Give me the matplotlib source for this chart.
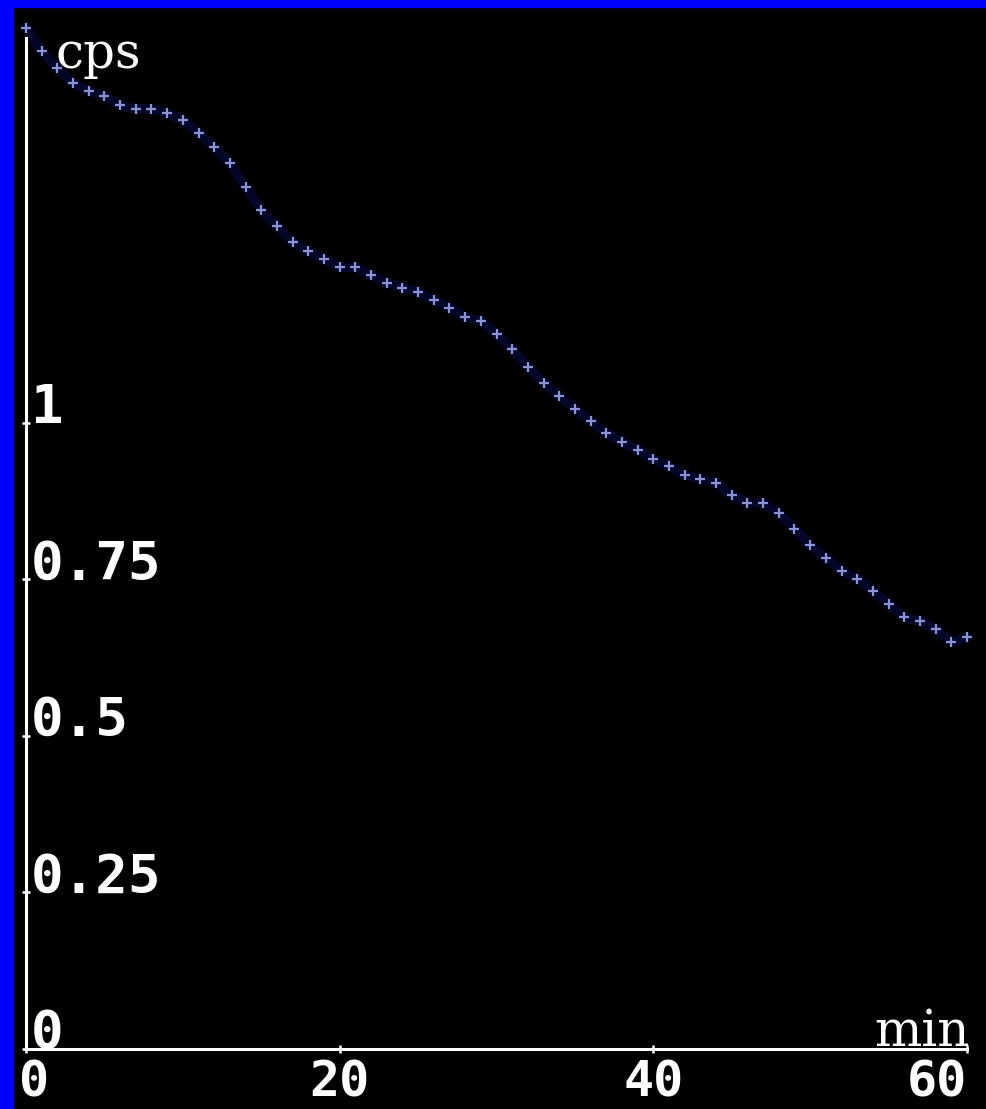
import matplotlib
matplotlib.use("Agg")
import matplotlib.pyplot as plt
from matplotlib.patches import Rectangle
from matplotlib.transforms import ScaledTranslation

# ---- data ----
minutes = list(range(0, 61))
cps = [1.631, 1.594, 1.567, 1.543, 1.530, 1.522, 1.508, 1.502, 1.502, 1.495,
       1.484, 1.463, 1.441, 1.415, 1.377, 1.340, 1.315, 1.289, 1.275, 1.262,
       1.249, 1.249, 1.236, 1.224, 1.216, 1.209, 1.196, 1.184, 1.169, 1.163,
       1.142, 1.118, 1.089, 1.064, 1.043, 1.022, 1.003, 0.984, 0.970, 0.957,
       0.942, 0.931, 0.917, 0.911, 0.904, 0.885, 0.872, 0.872, 0.856, 0.831,
       0.805, 0.784, 0.764, 0.751, 0.732, 0.711, 0.690, 0.684, 0.671, 0.650,
       0.658]
x_ticks = [0, 20, 40, 60]
x_tick_labels = ["0", "20", "40", "60"]
y_ticks = [0, 0.25, 0.5, 0.75, 1]
y_tick_labels = ["0", "0.25", "0.5", "0.75", "1"]
x_unit = "min"
y_unit = "cps"

W, H = 986, 1109
fig = plt.figure(figsize=(W / 100, H / 100), dpi=100, facecolor="black")

# blue window frame (left and top)
fig.add_artist(Rectangle((0, 0), 13 / W, 1, transform=fig.transFigure,
                         color="#0000fe", zorder=0))
fig.add_artist(Rectangle((0, 1 - 7 / H), 1, 7 / H, transform=fig.transFigure,
                         color="#0000fe", zorder=0))

ax = fig.add_axes([26 / W, 60 / H, (967 - 26) / W, (1049 - 38) / H])
ax.set_facecolor("black")
ax.set_xlim(0, 60)
ax.set_ylim(0, 1.615)

for s in ("top", "right"):
    ax.spines[s].set_visible(False)
for s in ("left", "bottom"):
    ax.spines[s].set_color("white")
    ax.spines[s].set_linewidth(2.2)
    ax.spines[s].set_capstyle("projecting")

# faint halo band + cross markers
ax.plot(minutes, cps, color="#040628", lw=7, solid_capstyle="round",
        solid_joinstyle="round", zorder=2, clip_on=False)
ax.plot(minutes, cps, ls="none", marker="+", ms=6.5, mew=1.6,
        color="#8a94d4", zorder=3, clip_on=False)

ax.set_xticks(x_ticks)
ax.set_xticklabels(x_tick_labels, color="white", family="DejaVu Sans Mono",
                   weight="bold", size=36)
ax.tick_params(axis="x", direction="inout", length=6, width=1.8,
               color="white", pad=4)
xl = ax.get_xticklabels()
xl[0].set_transform(xl[0].get_transform()
                    + ScaledTranslation(8 / 100, 0, fig.dpi_scale_trans))
xl[-1].set_horizontalalignment("right")

ax.set_yticks(y_ticks)
ax.set_yticklabels(y_tick_labels, color="white", family="DejaVu Sans Mono",
                   weight="bold", size=39)
ax.tick_params(axis="y", direction="inout", length=6, width=1.8,
               color="white", pad=-6.5)
for lab in ax.get_yticklabels():
    lab.set_horizontalalignment("left")
    lab.set_verticalalignment("baseline")

unit_font = dict(family="DejaVu Serif", size=36, color="white")
fig.text(55 / W, 1 - 68 / H, y_unit, ha="left", va="baseline", **unit_font)
fig.text(970 / W, 1 - 1046 / H, x_unit, ha="right", va="baseline", **unit_font)

fig.savefig("out.png", dpi=100, facecolor="black")
